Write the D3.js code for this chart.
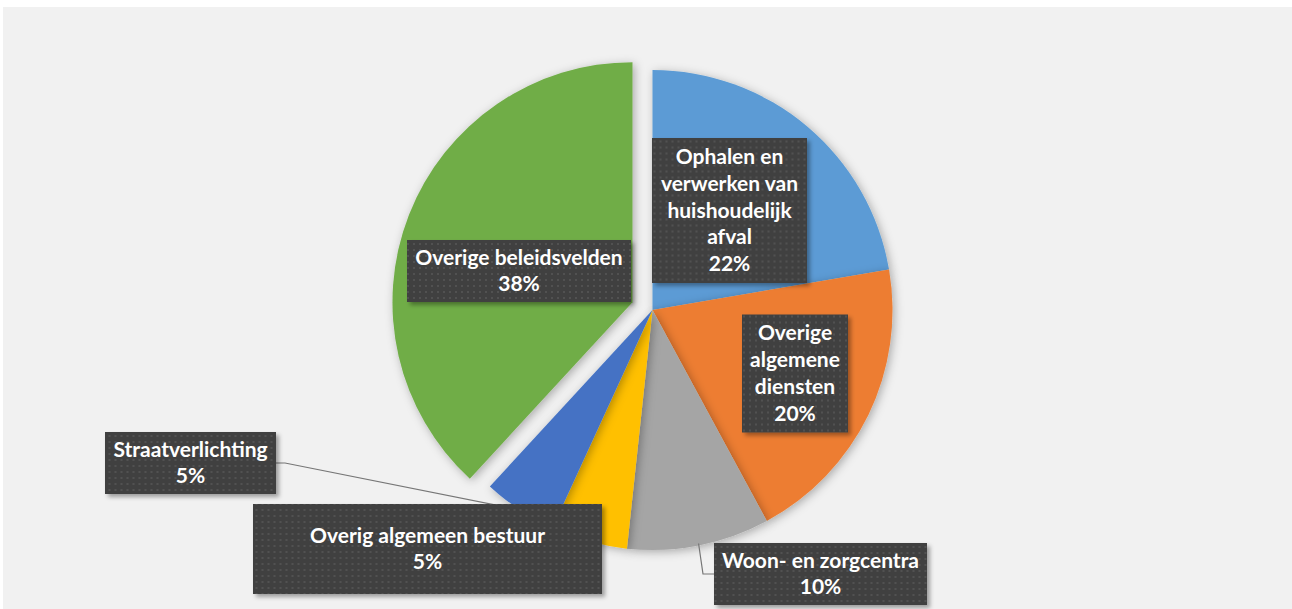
<!DOCTYPE html>
<html>
<head>
<meta charset="utf-8">
<script src="https://cdn.jsdelivr.net/npm/d3@7"></script>
<style>
  body { margin: 0; background: #ffffff; }
  .slice-label { font-family: Lato, "Open Sans", sans-serif; font-weight: 700; font-size: 21px; fill: #ffffff; }
</style>
</head>
<body>
<div id="chart"></div>
<script>
// Data: share of spending per policy field (clockwise from 12 o'clock)
const categories = [
  "Ophalen en verwerken van huishoudelijk afval",
  "Overige algemene diensten",
  "Woon- en zorgcentra",
  "Overig algemeen bestuur",
  "Straatverlichting",
  "Overige beleidsvelden"
];
const values = [22.3, 19.8, 9.6, 5.15, 5.0, 38.15];
const colors = ["#5B9BD5", "#ED7D31", "#A5A5A5", "#FFC000", "#4472C4", "#70AD47"];

// How each label is broken into lines
const labelLines = [
  ["Ophalen en", "verwerken van", "huishoudelijk", "afval"],
  ["Overige", "algemene", "diensten"],
  ["Woon- en zorgcentra"],
  ["Overig algemeen bestuur"],
  ["Straatverlichting"],
  ["Overige beleidsvelden"]
];

// Label box layout (centre x/y, width, height) in page pixels
const labelBoxes = [
  { cx: 729.5, cy: 210.5, w: 155, h: 145 },
  { cx: 795,   cy: 373.5, w: 106, h: 118 },
  { cx: 820.5, cy: 574,   w: 213, h: 62 },
  { cx: 427.5, cy: 549,   w: 349, h: 90 },
  { cx: 190.5, cy: 463,   w: 171, h: 62 },
  { cx: 519,   cy: 271,   w: 224, h: 62 }
];

const width = 1292, height = 609;
const center = { x: 652.5, y: 310 };
const radius = 240;
const explodeIndex = 5, explodeDist = 21.5;
const lineHeight = 26.7;

const svg = d3.select("#chart")
  .append("svg")
  .attr("width", width)
  .attr("height", height);

const defs = svg.append("defs");

// soft shadow under slices
const sliceShadow = defs.append("filter")
  .attr("id", "sliceShadow")
  .attr("x", "-20%").attr("y", "-20%")
  .attr("width", "140%").attr("height", "140%");
sliceShadow.append("feDropShadow")
  .attr("dx", 2).attr("dy", 2)
  .attr("stdDeviation", 5)
  .attr("flood-color", "#000")
  .attr("flood-opacity", 0.3);

// shadow under label boxes
const boxShadow = defs.append("filter")
  .attr("id", "boxShadow")
  .attr("x", "-20%").attr("y", "-20%")
  .attr("width", "140%").attr("height", "140%");
boxShadow.append("feDropShadow")
  .attr("dx", 3).attr("dy", 3)
  .attr("stdDeviation", 2)
  .attr("flood-color", "#000")
  .attr("flood-opacity", 0.35);

// dotted fill of the label boxes
const dots = defs.append("pattern")
  .attr("id", "dots")
  .attr("patternUnits", "userSpaceOnUse")
  .attr("width", 6).attr("height", 6);
dots.append("rect").attr("width", 6).attr("height", 6).attr("fill", "#404040");
dots.append("rect").attr("x", 2).attr("y", 2).attr("width", 2).attr("height", 2).attr("fill", "#515151");

// panel background
svg.append("rect")
  .attr("x", 3).attr("y", 7)
  .attr("width", width - 3).attr("height", height - 7)
  .attr("fill", "#f1f1f1");

// Pie
const pie = d3.pie().sort(null).value(d => d);
const arcs = pie(values);
const arc = d3.arc().innerRadius(0).outerRadius(radius);

const g = svg.append("g")
  .attr("transform", `translate(${center.x}, ${center.y})`);

g.selectAll(".slice")
  .data(arcs)
  .join("path")
  .attr("class", "slice")
  .attr("d", arc)
  .attr("fill", (d, i) => colors[i])
  .attr("filter", "url(#sliceShadow)")
  .attr("transform", (d, i) => {
    if (i !== explodeIndex) return null;
    const mid = (d.startAngle + d.endAngle) / 2;
    return `translate(${Math.sin(mid) * explodeDist}, ${-Math.cos(mid) * explodeDist})`;
  });

// Leader lines (Straatverlichting and Woon- en zorgcentra)
const leader = d3.line();
const strPt = d3.arc().innerRadius(radius).outerRadius(radius).centroid(arcs[4]);
svg.append("path")
  .attr("d", leader([
    [labelBoxes[4].cx + labelBoxes[4].w / 2, labelBoxes[4].cy],
    [labelBoxes[4].cx + labelBoxes[4].w / 2 + 9, labelBoxes[4].cy],
    [center.x + strPt[0], center.y + strPt[1]]
  ]))
  .attr("fill", "none")
  .attr("stroke", "#767676")
  .attr("stroke-width", 1.2);

const woonAngle = (arcs[2].startAngle + arcs[2].endAngle) / 2;
svg.append("path")
  .attr("d", leader([
    [center.x + Math.sin(woonAngle) * (radius - 2), center.y - Math.cos(woonAngle) * (radius - 2)],
    [labelBoxes[2].cx - labelBoxes[2].w / 2 - 11, labelBoxes[2].cy],
    [labelBoxes[2].cx - labelBoxes[2].w / 2, labelBoxes[2].cy]
  ]))
  .attr("fill", "none")
  .attr("stroke", "#767676")
  .attr("stroke-width", 1.2);

// Label boxes
const labels = svg.selectAll(".label")
  .data(arcs)
  .join("g")
  .attr("class", "label")
  .attr("transform", (d, i) => `translate(${labelBoxes[i].cx}, ${labelBoxes[i].cy})`);

labels.append("rect")
  .attr("x", (d, i) => -labelBoxes[i].w / 2)
  .attr("y", (d, i) => -labelBoxes[i].h / 2)
  .attr("width", (d, i) => labelBoxes[i].w)
  .attr("height", (d, i) => labelBoxes[i].h)
  .attr("fill", "url(#dots)")
  .attr("filter", "url(#boxShadow)");

labels.each(function(d, i) {
  const lines = labelLines[i].concat([Math.round(d.value) + "%"]);
  const n = lines.length;
  const text = d3.select(this).append("text")
    .attr("class", "slice-label")
    .attr("text-anchor", "middle");
  lines.forEach((l, k) => {
    text.append("tspan")
      .attr("x", 0)
      .attr("y", (k - (n - 1) / 2) * lineHeight + 7)
      .text(l);
  });
});
</script>
</body>
</html>
